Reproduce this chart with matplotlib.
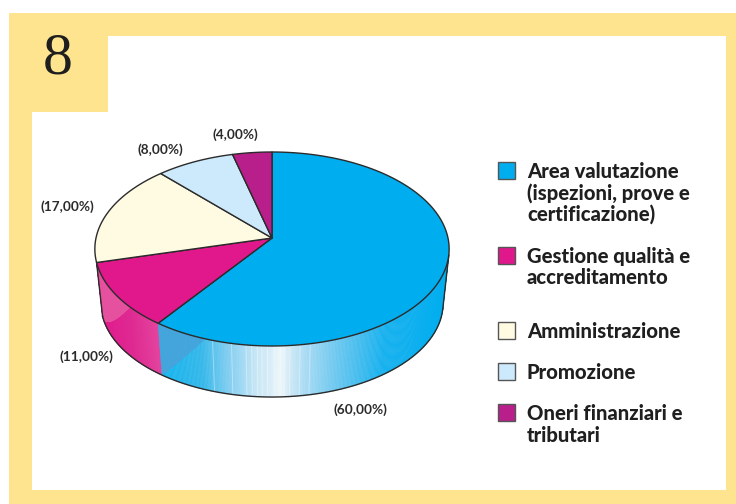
import numpy as np
import matplotlib
matplotlib.use("Agg")
import matplotlib.pyplot as plt
from matplotlib.collections import PolyCollection
from matplotlib.colors import to_rgb
from matplotlib.patches import Polygon, Rectangle

categories = ["Area valutazione\n(ispezioni, prove e\ncertificazione)",
              "Gestione qualità e\naccreditamento",
              "Amministrazione",
              "Promozione",
              "Oneri finanziari e\ntributari"]
values = [60, 11, 17, 8, 4]
value_labels = ["(60,00%)", "(11,00%)", "(17,00%)", "(8,00%)", "(4,00%)"]
colors = ["#00aeef", "#e0188c", "#fffbe2", "#cdeafc", "#b91f8b"]

label_pos = [(360, 410), (86, 357), (67, 207), (160, 150), (235, 135)]
legend_y = [170, 255, 330, 371, 412]

YELLOW = "#fee48e"
DARK = "#2b2b2b"
FONT = "Lato"

# pie seen in perspective, so the apex is not the middle of the ellipse
K = 0.1134


def rim(theta, cx, cy, bx, ay):
    u, v = np.sin(theta), np.cos(theta)
    den = 1 + K * v
    return np.column_stack([cx + bx * u / den, cy - ay * v / den])


def top_rim(theta):
    return rim(theta, 272, 238, 176, 95.75)


def low_rim(theta):
    return rim(theta, 272, 292.7, 170, 92.5)


def ramp(x, stops):
    xs = [s[0] for s in stops]
    rgb = np.array([to_rgb(s[1]) for s in stops])
    return [np.interp(x, xs, rgb[:, i]) for i in range(3)]


# wall shading, screen x -> colour
blue_stops = [(158, "#12b4ee"), (200, "#35b8ea"), (225, "#7cccf0"), (240, "#9ed8f3"),
              (255, "#c6e6f5"), (270, "#d8edf7"), (280, "#eef7fb"), (290, "#d0e9f6"),
              (305, "#aadcf4"), (330, "#7accf0"), (360, "#45bdee"), (385, "#16b1ef"),
              (450, "#00aeef")]
magenta_stops = [(97, "#e01a8c"), (130, "#df2a92"), (158, "#e3459f")]
stripes = [219, 236, 249, 254, 259, 263, 268, 274, 283, 288, 297, 306]


def wall(ax, t0, t1, stops, shade, shade_x):
    # shade: colour of the wedge under the top rim, over x range shade_x
    ts = np.linspace(t0, t1, 260)
    top, low = top_rim(ts), low_rim(ts)
    polys, cols = [], []
    for i in range(len(ts) - 1):
        a, b, c, d = top[i], top[i + 1], low[i + 1], low[i]
        col = ramp((a[0] + b[0]) / 2, stops)
        polys.append([a, b, c, d])
        cols.append(col)
    pc = PolyCollection(polys, facecolors=cols, edgecolors=cols, linewidths=0.4, zorder=2)
    ax.add_collection(pc)

    polys = []
    full, none = shade_x
    for i in range(len(ts) - 1):
        fa = (top[i][0] - none) / (full - none)
        fb = (top[i + 1][0] - none) / (full - none)
        if min(fa, fb) < 0 or max(fa, fb) > 1:
            continue
        polys.append([top[i], top[i + 1],
                      top[i + 1] + fb * (low[i + 1] - top[i + 1]),
                      top[i] + fa * (low[i] - top[i])])
    ax.add_collection(PolyCollection(polys, facecolors=shade, edgecolors=shade,
                                     linewidths=0.4, zorder=3))


fig = plt.figure(figsize=(7.36, 5.04), dpi=100)
ax = fig.add_axes([0, 0, 1, 1])
ax.set_xlim(0, 736)
ax.set_ylim(504, 0)
ax.axis("off")

# page frame
ax.add_patch(Rectangle((9, 13), 727, 491, fc=YELLOW, ec="none", zorder=0))
ax.add_patch(Rectangle((32, 36), 694, 454, fc="white", ec="none", zorder=0))
ax.add_patch(Rectangle((9, 13), 99, 99, fc=YELLOW, ec="none", zorder=1))
ax.text(58, 59, "8", family="Liberation Serif", fontsize=43, color="#1e1e1e",
        ha="center", va="center", zorder=2)

edges = np.cumsum([0] + values) / sum(values) * 2 * np.pi

# side wall, only the two front slices have one
wall(ax, np.radians(100), edges[1], blue_stops, "#45a5dc", (158, 205))
wall(ax, edges[1], edges[2], magenta_stops, "#e5509f", (97, 130))

for x in stripes:
    t = np.arcsin(np.clip((272 - x) / 176, -1, 1)) + np.pi
    seg = np.vstack([top_rim(np.array([t])), low_rim(np.array([t]))])
    ax.plot(seg[:, 0], seg[:, 1], color="white", lw=0.7, alpha=0.4, zorder=3,
            solid_capstyle="butt")

ts = np.linspace(np.radians(100), edges[2], 200)
ax.plot(*low_rim(ts).T, color=DARK, lw=1.0, zorder=5)
for t in (ts[0], ts[-1]):
    seg = np.vstack([top_rim(np.array([t])), low_rim(np.array([t]))])
    ax.plot(seg[:, 0], seg[:, 1], color=DARK, lw=1.0, zorder=5)

# top face
for i, col in enumerate(colors):
    ts = np.linspace(edges[i], edges[i + 1], 120)
    pts = np.vstack([[272, 238], top_rim(ts)])
    ax.add_patch(Polygon(pts, closed=True, fc=col, ec=DARK, lw=1.0, joinstyle="round", zorder=6))

for txt, (x, y) in zip(value_labels, label_pos):
    ax.text(x, y, txt, family=FONT, weight="bold", fontsize=9.8, color=DARK,
            ha="center", va="center", zorder=7)

# legend
for cat, col, y in zip(categories, colors, legend_y):
    ax.add_patch(Rectangle((498, y - 8), 17, 17, fc=col, ec="#555555", lw=1.0, zorder=7))
    for j, line in enumerate(cat.split("\n")):
        ax.text(527, y + 8 + j * 21.5, line, family=FONT, weight=900, fontsize=14.6,
                color="#1f1f1f", ha="left", va="baseline", zorder=7)

fig.savefig("out.png", dpi=100)
